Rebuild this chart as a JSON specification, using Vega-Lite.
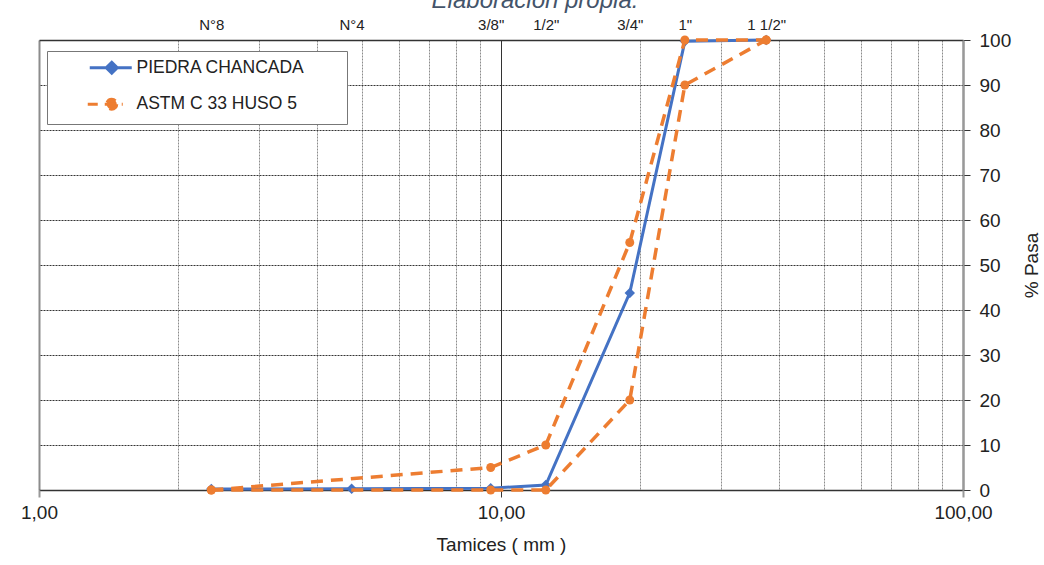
{
  "$schema": "https://vega.github.io/schema/vega-lite/v6.json",
  "width": 924,
  "height": 450,
  "autosize": {"type": "none"},
  "padding": {"left": 39, "top": 40, "right": 81, "bottom": 75},
  "background": "white",
  "config": {
    "view": {"stroke": null},
    "font": "Liberation Sans"
  },
  "title": {
    "text": "Elaboración propia.",
    "font": "Liberation Sans",
    "fontStyle": "italic",
    "fontWeight": "normal",
    "fontSize": 24,
    "color": "#44546A",
    "anchor": "middle",
    "dx": 34,
    "dy": 19,
    "offset": 4,
    "baseline": "alphabetic"
  },
  "data": {
    "values": [
      {"serie": "PIEDRA CHANCADA", "tramo": "P", "tamiz": 2.36, "pasa": 0.2},
      {"serie": "PIEDRA CHANCADA", "tramo": "P", "tamiz": 4.75, "pasa": 0.3},
      {"serie": "PIEDRA CHANCADA", "tramo": "P", "tamiz": 9.5, "pasa": 0.4},
      {"serie": "PIEDRA CHANCADA", "tramo": "P", "tamiz": 12.5, "pasa": 1.1},
      {"serie": "PIEDRA CHANCADA", "tramo": "P", "tamiz": 19, "pasa": 43.8},
      {"serie": "PIEDRA CHANCADA", "tramo": "P", "tamiz": 25, "pasa": 99.7},
      {"serie": "PIEDRA CHANCADA", "tramo": "P", "tamiz": 37.5, "pasa": 100},
      {"serie": "ASTM C 33 HUSO 5", "tramo": "sup", "tamiz": 2.36, "pasa": 0},
      {"serie": "ASTM C 33 HUSO 5", "tramo": "sup", "tamiz": 9.5, "pasa": 5},
      {"serie": "ASTM C 33 HUSO 5", "tramo": "sup", "tamiz": 12.5, "pasa": 10},
      {"serie": "ASTM C 33 HUSO 5", "tramo": "sup", "tamiz": 19, "pasa": 55},
      {"serie": "ASTM C 33 HUSO 5", "tramo": "sup", "tamiz": 25, "pasa": 100},
      {"serie": "ASTM C 33 HUSO 5", "tramo": "sup", "tamiz": 37.5, "pasa": 100},
      {"serie": "ASTM C 33 HUSO 5", "tramo": "inf", "tamiz": 2.36, "pasa": 0},
      {"serie": "ASTM C 33 HUSO 5", "tramo": "inf", "tamiz": 9.5, "pasa": 0},
      {"serie": "ASTM C 33 HUSO 5", "tramo": "inf", "tamiz": 12.5, "pasa": 0},
      {"serie": "ASTM C 33 HUSO 5", "tramo": "inf", "tamiz": 19, "pasa": 20},
      {"serie": "ASTM C 33 HUSO 5", "tramo": "inf", "tamiz": 25, "pasa": 90},
      {"serie": "ASTM C 33 HUSO 5", "tramo": "inf", "tamiz": 37.5, "pasa": 100}
    ]
  },
  "resolve": {"axis": {"x": "independent"}},
  "layer": [
    {
      "transform": [{"filter": "datum.serie === 'PIEDRA CHANCADA'"}],
      "mark": {"type": "line", "strokeWidth": 3},
      "encoding": {
        "x": {
          "field": "tamiz", "type": "quantitative",
          "scale": {"type": "log", "domain": [1, 100], "nice": false},
          "axis": {
            "orient": "bottom",
            "title": "Tamices ( mm )",
            "titleFont": "Liberation Sans",
            "titleFontSize": 19,
            "titleFontWeight": "normal",
            "titleColor": "#222",
            "titlePadding": 13,
            "values": [1, 2, 3, 4, 5, 6, 7, 8, 9, 10, 20, 30, 40, 50, 60, 70, 80, 90, 100],
            "labelExpr": "(datum.value == 1 || datum.value == 10 || datum.value == 100) ? replace(format(datum.value, '.2f'), '.', ',') : ''",
            "labelFont": "Liberation Sans",
            "labelFontSize": 19,
            "labelColor": "#222",
            "labelOverlap": false,
            "labelFlush": false,
            "labelBound": false,
            "labelPadding": 6,
            "domain": false,
            "tickSize": 7,
            "tickColor": {"condition": {"test": "datum.value == 10", "value": "#333"}, "value": "#999"},
            "tickWidth": {"condition": {"test": "datum.value == 10", "value": 1}, "value": 2},
            "tickOpacity": {"condition": {"test": "datum.value == 1 || datum.value == 10 || datum.value == 100", "value": 1}, "value": 0},
            "grid": true,
            "gridColor": {"condition": {"test": "datum.value == 10", "value": "#333"}, "value": "#8c8c8c"},
            "gridWidth": {"condition": {"test": "datum.value == 1 || datum.value == 100", "value": 2}, "value": 1},
            "gridDash": {"condition": {"test": "datum.value == 1 || datum.value == 10 || datum.value == 100", "value": []}, "value": [2, 1]},
            "gridOpacity": 1
          }
        },
        "y": {
          "field": "pasa", "type": "quantitative",
          "scale": {"domain": [0, 100], "nice": false},
          "axis": {
            "orient": "right",
            "title": "% Pasa",
            "titleAngle": 270,
            "titleFont": "Liberation Sans",
            "titleFontSize": 19,
            "titleFontWeight": "normal",
            "titleColor": "#222",
            "titlePadding": 31,
            "values": [0, 10, 20, 30, 40, 50, 60, 70, 80, 90, 100],
            "labelFont": "Liberation Sans",
            "labelFontSize": 19,
            "labelColor": "#222",
            "labelPadding": 9,
            "labelOverlap": false,
            "labelBound": false,
            "labelFlush": false,
            "domain": true,
            "domainColor": "#999",
            "domainWidth": 2,
            "tickSize": 7,
            "tickColor": "#333",
            "grid": true,
            "gridColor": "#333",
            "gridDash": {"condition": {"test": "datum.value == 0 || datum.value == 100", "value": []}, "value": [2, 1]},
            "gridWidth": {"condition": {"test": "datum.value == 0 || datum.value == 100", "value": 1.5}, "value": 1},
            "gridOpacity": 1
          }
        },
        "color": {
          "field": "serie", "type": "nominal",
          "scale": {"domain": ["PIEDRA CHANCADA", "ASTM C 33 HUSO 5"], "range": ["#4472C4", "#ED7D31"]},
          "legend": {
            "title": null,
            "orient": "none",
            "legendX": 8,
            "legendY": 11,
            "padding": 8,
            "strokeColor": "#777",
            "fillColor": "white",
            "symbolSize": 16,
            "symbolStrokeWidth": 3,
            "labelFont": "Liberation Sans",
            "labelFontSize": 17.5,
            "labelColor": "#222",
            "labelOffset": 64,
            "labelLimit": 400,
            "rowPadding": 12.5,
            "labelExpr": "datum.label + '\u00a0\u00a0\u00a0\u00a0\u00a0\u00a0\u00a0\u200b'",
            "encode": {
              "symbols": {
                "update": {
                  "shape": {"signal": "datum.value === 'PIEDRA CHANCADA' ? 'M13,0H34M24,-2.75L26.75,0L24,2.75L21.25,0Z' : 'M12,0H29.5M26.5,0A2.5,2.5 0 1,1 21.5,0A2.5,2.5 0 1,1 26.5,0Z'"},
                  "fill": {"signal": "datum.value === 'PIEDRA CHANCADA' ? '#4472C4' : '#ED7D31'"},
                  "stroke": {"signal": "datum.value === 'PIEDRA CHANCADA' ? '#4472C4' : '#ED7D31'"},
                  "strokeDash": {"signal": "datum.value === 'PIEDRA CHANCADA' ? [] : [10, 7]"},
                  "opacity": {"value": 1}
                }
              }
            }
          }
        }
      }
    },
    {
      "transform": [{"filter": "datum.serie === 'PIEDRA CHANCADA'"}],
      "mark": {"type": "point", "shape": "diamond", "filled": true, "size": 110, "opacity": 1, "color": "#4472C4"},
      "encoding": {
        "x": {"field": "tamiz", "type": "quantitative", "scale": {"type": "log", "domain": [1, 100], "nice": false}, "axis": null},
        "y": {"field": "pasa", "type": "quantitative", "scale": {"domain": [0, 100], "nice": false}}
      }
    },
    {
      "transform": [{"filter": "datum.serie === 'ASTM C 33 HUSO 5'"}],
      "mark": {"type": "line", "strokeWidth": 3.5, "strokeDash": [12, 8]},
      "encoding": {
        "x": {
          "field": "tamiz", "type": "quantitative",
          "scale": {"type": "log", "domain": [1, 100], "nice": false},
          "axis": {
            "orient": "top",
            "title": null,
            "values": [2.36, 4.75, 9.5, 12.5, 19, 25, 37.5],
            "labelExpr": "datum.value == 2.36 ? 'N°8' : datum.value == 4.75 ? 'N°4' : datum.value == 9.5 ? '3/8\"' : datum.value == 12.5 ? '1/2\"' : datum.value == 19 ? '3/4\"' : datum.value == 25 ? '1\"' : '1 1/2\"'",
            "labelFont": "Liberation Sans",
            "labelFontSize": 15,
            "labelColor": "#222",
            "labelPadding": 8,
            "labelOverlap": false,
            "labelBound": false,
            "labelFlush": false,
            "domain": false,
            "ticks": false,
            "grid": false
          }
        },
        "y": {"field": "pasa", "type": "quantitative", "scale": {"domain": [0, 100], "nice": false}},
        "detail": {"field": "tramo"},
        "color": {"field": "serie", "type": "nominal"}
      }
    },
    {
      "transform": [{"filter": "datum.serie === 'ASTM C 33 HUSO 5'"}],
      "mark": {"type": "point", "shape": "circle", "filled": true, "size": 80, "opacity": 1, "color": "#ED7D31"},
      "encoding": {
        "x": {"field": "tamiz", "type": "quantitative", "scale": {"type": "log", "domain": [1, 100], "nice": false}, "axis": null},
        "y": {"field": "pasa", "type": "quantitative", "scale": {"domain": [0, 100], "nice": false}}
      }
    }
  ]
}
